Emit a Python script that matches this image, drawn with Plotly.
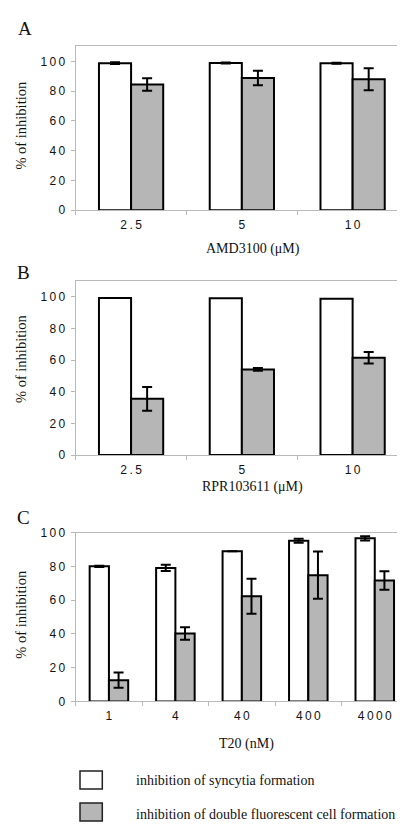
import plotly.graph_objects as go

# ---------------- data ----------------
A_cats = ["2.5", "5", "10"]
A_syncytia = [98.8, 98.9, 98.7]
A_syncytia_err = [0.6, 0.4, 0.4]
A_double = [84.5, 88.8, 88.0]
A_double_err = [4.2, 4.8, 7.4]

B_cats = ["2.5", "5", "10"]
B_syncytia = [99.4, 99.1, 98.8]
B_double = [35.6, 54.2, 61.6]
B_double_err = [7.5, 0.8, 3.6]

C_cats = ["1", "4", "40", "400", "4000"]
C_syncytia = [80.0, 79.1, 89.0, 95.2, 96.6]
C_syncytia_err = [0.3, 1.9, 0.0, 1.2, 1.3]
C_double = [12.6, 40.3, 62.3, 74.8, 71.6]
C_double_err = [4.5, 3.7, 10.4, 14.0, 5.5]

y_ticks = [0, 20, 40, 60, 80, 100]
x_titles = ["AMD3100 (\u03bcM)", "RPR103611 (\u03bcM)", "T20 (nM)"]
panel_letters = ["A", "B", "C"]
legend_labels = ["inhibition of syncytia formation",
                 "inhibition of double fluorescent cell formation"]

# ---------------- style ----------------
W, H = 405, 827
SANS = "Liberation Sans, Arial, sans-serif"
SERIF = "Liberation Serif, Times New Roman, serif"
GRAY = "#b6b6b6"
FRAME = "#b9b9b9"


def fx(px):
    return px / W


def fy(py):
    return 1 - py / H


def spaced(s):
    return "\u2009".join(list(s))


fig = go.Figure()

panels = [
    dict(cats=A_cats, s=A_syncytia, se=A_syncytia_err, d=A_double, de=A_double_err,
         yr=[0, 110], top=32, bot=198.5),
    dict(cats=B_cats, s=B_syncytia, se=None, d=B_double, de=B_double_err,
         yr=[0, 110], top=270.7, bot=447.7),
    dict(cats=C_cats, s=C_syncytia, se=C_syncytia_err, d=C_double, de=C_double_err,
         yr=[0, 100], top=526.5, bot=698.3),
]

x_left, x_right = 67.7, 400

for i, p in enumerate(panels):
    n = "" if i == 0 else str(i + 1)
    xa, ya = "x" + n, "y" + n
    err_s = None
    if p["se"] is not None:
        err_s = dict(type="data", array=p["se"], color="black", thickness=2, width=5)
    fig.add_trace(go.Bar(
        x=p["cats"], y=p["s"], xaxis=xa, yaxis=ya,
        marker=dict(color="white", line=dict(color="black", width=2)),
        error_y=err_s, showlegend=False, name=legend_labels[0]))
    fig.add_trace(go.Bar(
        x=p["cats"], y=p["d"], xaxis=xa, yaxis=ya,
        marker=dict(color=GRAY, line=dict(color="black", width=2)),
        error_y=dict(type="data", array=p["de"], color="black", thickness=2, width=5),
        showlegend=False, name=legend_labels[1]))

    fig.update_layout(**{
        "xaxis" + n: dict(
            domain=[fx(x_left), fx(x_right)], anchor=ya,
            type="category", categoryorder="array", categoryarray=p["cats"],
            tickvals=p["cats"], ticktext=[spaced(c) for c in p["cats"]],
            showline=True, linecolor=FRAME, linewidth=1, mirror=True,
            ticks="outside", tickson="boundaries", ticklen=4, tickcolor=FRAME,
            tickfont=dict(family=SANS, size=12, color="#111"),
            ticklabelstandoff=3, showgrid=False, zeroline=False),
        "yaxis" + n: dict(
            domain=[fy(p["bot"]), fy(p["top"])], anchor=xa,
            range=p["yr"], tickvals=y_ticks, ticktext=[spaced(str(t)) for t in y_ticks],
            showline=True, linecolor=FRAME, linewidth=1, mirror=True,
            ticks="outside", ticklen=4, tickcolor=FRAME,
            tickfont=dict(family=SANS, size=12, color="#111"),
            ticklabelstandoff=3, showgrid=False, zeroline=False),
    })

# axis titles and panel letters
x_title_pos = [(245, 238), (244, 480), (238.5, 741.7)]
y_title_pos = [(13, 112.5), (13, 350), (13, 610)]
letter_pos = [(16.5, 14), (15, 262), (15.5, 511.5)]
ann = []
for i in range(3):
    ann.append(dict(text=x_titles[i], x=fx(x_title_pos[i][0]), y=fy(x_title_pos[i][1]),
                    xref="paper", yref="paper", showarrow=False,
                    xanchor="center", yanchor="middle",
                    font=dict(family=SERIF, size=14, color="#111")))
    ann.append(dict(text="% of inhibition", x=fx(y_title_pos[i][0]), y=fy(y_title_pos[i][1]),
                    xref="paper", yref="paper", showarrow=False, textangle=-90,
                    xanchor="center", yanchor="middle",
                    font=dict(family=SERIF, size=14.5, color="#111")))
    ann.append(dict(text=panel_letters[i], x=fx(letter_pos[i][0]), y=fy(letter_pos[i][1]),
                    xref="paper", yref="paper", showarrow=False,
                    xanchor="center", yanchor="middle",
                    font=dict(family=SERIF, size=19, color="#111")))

# legend (drawn manually)
legend_fill = ["white", GRAY]
legend_box_y = [(769, 787.3), (801.5, 820)]
legend_text_y = [779, 813]
shapes = []
for k in range(2):
    shapes.append(dict(type="rect", xref="paper", yref="paper",
                       x0=fx(72), x1=fx(94.3),
                       y0=fy(legend_box_y[k][1]), y1=fy(legend_box_y[k][0]),
                       fillcolor=legend_fill[k], line=dict(color="#222", width=1.5)))
    ann.append(dict(text=legend_labels[k], x=fx(125.5), y=fy(legend_text_y[k]),
                    xref="paper", yref="paper", showarrow=False,
                    xanchor="left", yanchor="middle",
                    font=dict(family=SERIF, size=14, color="#111")))

fig.update_layout(
    width=W, height=H, margin=dict(l=0, r=0, t=0, b=0),
    paper_bgcolor="white", plot_bgcolor="white",
    barmode="group", bargap=0.42, bargroupgap=0,
    annotations=ann, shapes=shapes, showlegend=False,
)

fig.write_html("out.html")
